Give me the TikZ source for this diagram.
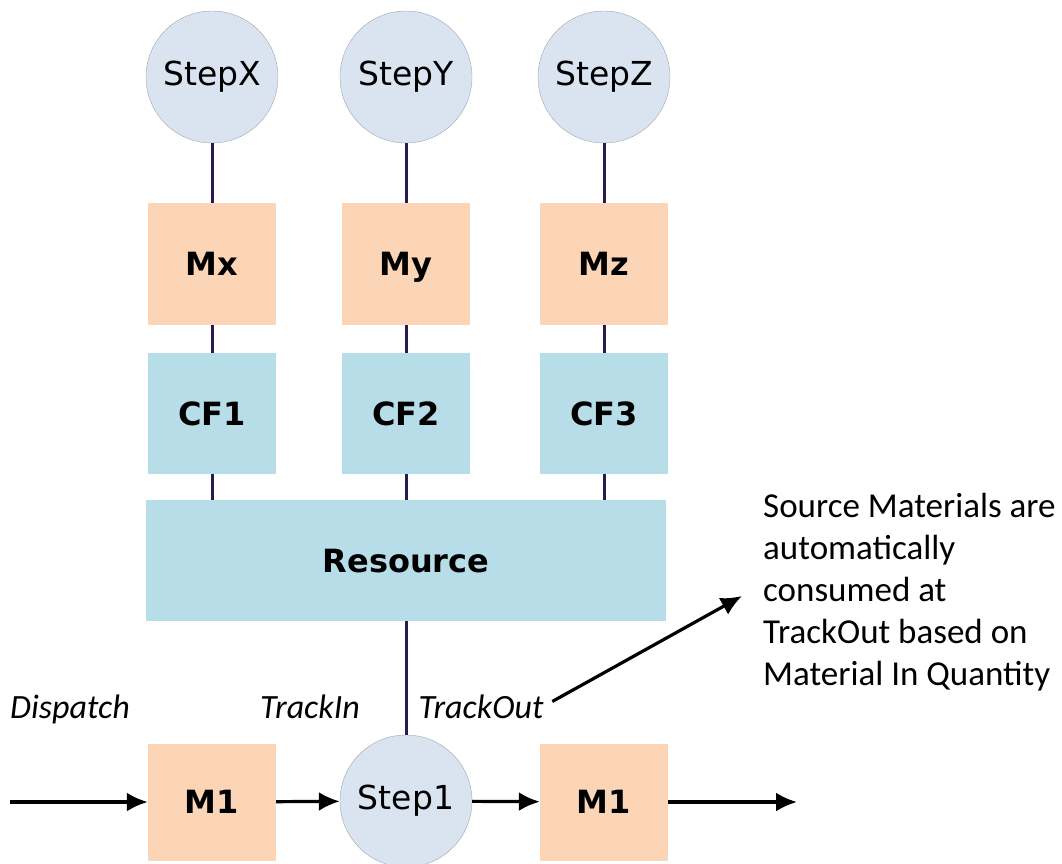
\documentclass[tikz,border=0pt]{standalone}
\usepackage{fontspec}
\setmainfont{Carlito}
\newfontfamily\stepfont{DejaVu Sans}
\usepackage{tikz}
\usetikzlibrary{arrows.meta, positioning}
\definecolor{stepfill}{HTML}{DAE3F0}
\definecolor{stepedge}{HTML}{9EA6B3}
\definecolor{matfill}{HTML}{FBD5B5}
\definecolor{cffill}{HTML}{B7DEE8}
\definecolor{linkcol}{HTML}{2B1A4D}
\tikzstyle{stepnode}=[circle, draw=stepedge, fill=stepfill, inner sep=0pt, minimum size=132pt, font=\stepfont\fontsize{33}{40}\selectfont]
\tikzstyle{matbox}=[rectangle, fill=matfill, inner sep=0pt, minimum width=128pt, minimum height=122pt, text height=23pt, text depth=0pt, font=\stepfont\bfseries\fontsize{32}{38}\selectfont]
\tikzstyle{cfbox}=[rectangle, fill=cffill, inner sep=0pt, minimum width=128pt, minimum height=121pt, text height=23pt, text depth=0pt, font=\stepfont\bfseries\fontsize{32}{38}\selectfont]
\tikzstyle{link}=[draw=linkcol, line width=3pt]
\tikzstyle{flow}=[-{Latex[length=21pt, width=19pt]}, line width=3.2pt]
\tikzstyle{event}=[anchor=base, inner sep=0pt, font=\itshape\fontsize{34}{40}\selectfont]

\begin{document}
\begin{tikzpicture}[x=1pt, y=-1pt]
		\useasboundingbox (0,0) rectangle (1062,863);
		\node[cfbox, minimum width=520pt] (res) at (406,560.5) {Resource};
		\foreach \x/\n/\m [count=\c from 1] in {212/X/x, 406/Y/y, 604/Z/z}{
			\node[stepnode] (step\n) at (\x,77) {Step\n};
			\node[matbox] (mat\n) at (\x,264) {M\m};
			\node[cfbox] (cf\c) at (\x,413.5) {CF\c};
			\draw[link] (step\n) -- (mat\n);
			\draw[link] (mat\n) -- (cf\c);
			\draw[link] (cf\c) -- (cf\c.south |- res.north);
		}
		\node[matbox, minimum height=117pt] (matIn) at (212,802) {M1};
		\node[stepnode] (step1) at (406,801) {Step1};
		\node[matbox, minimum height=117pt] (matOut) at (604,802) {M1};
		\draw[link] (res) -- (step1);
		\coordinate (feed) at (10,802);
		\coordinate (exit) at (797,802);
		\draw[flow] (feed) -- (matIn);
		\draw[flow] (matIn) -- (step1);
		\draw[flow] (step1) -- (matOut);
		\draw[flow] (matOut) -- (exit);
		% events along the route
		\node[event] (dispatch) at (70,718) {Dispatch};
		\node[event] (trackIn) at (310,718) {TrackIn};
		\node[event] (trackOut) at (481,718) {TrackOut};
		\node[anchor=north west, align=left, inner sep=0pt, font=\fontsize{35}{42}\selectfont] (note) at (763,493)
			{Source Materials are\\automatically\\consumed at\\TrackOut based on\\Material In Quantity};
		\coordinate (noteTip) at (742,596);
		\draw[flow, shorten <=10pt] (trackOut.east) -- (noteTip);
	\end{tikzpicture}
\end{document}
